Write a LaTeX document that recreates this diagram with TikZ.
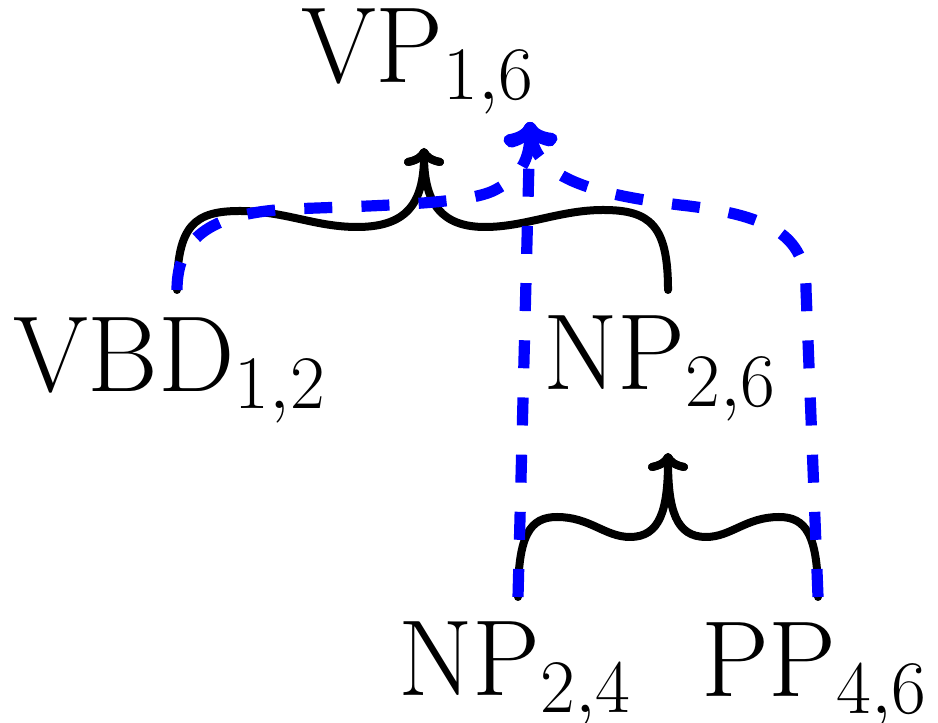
\RequirePackage{fix-cm}
\documentclass[tikz,border=0pt]{standalone}
\usetikzlibrary{arrows.meta}
\begin{document}
\begin{tikzpicture}[x=0.25pt,y=-0.25pt,
  cat/.style={anchor=base west, inner sep=0pt, outer sep=0pt,
    font=\fontsize{27}{32}\selectfont},
  brace/.style={line width=2pt, line cap=round, line join=round},
  bracetip/.style={-{Computer Modern Rightarrow[round,length=4.5pt,width=10pt]}},
  route/.style={blue, line width=2.8pt, dash pattern=on 7pt off 7.3pt,
    -{Computer Modern Rightarrow[round,length=6pt,width=13pt]}}]
\useasboundingbox (0,0) rectangle (938,723);

% categories with their spans
\node[cat] (vp)   at (301,83)  {$\mathrm{VP}_{1,6}$};
\node[cat] (vbd)  at (13,392)  {$\mathrm{VBD}_{1,2}$};
\node[cat] (np26) at (543,390) {$\mathrm{NP}_{2,6}$};
\node[cat] (np24) at (398,696) {$\mathrm{NP}_{2,4}$};
\node[cat] (pp46) at (701,697) {$\mathrm{PP}_{4,6}$};

% attachment points above children and below parents
\coordinate (vbdT)  at (177,290);
\coordinate (np26T) at (668,290);
\coordinate (np24T) at (518,597);
\coordinate (pp46T) at (818,597);
\coordinate (vpB)   at (424,148);
\coordinate (np26B) at (668,453);
\coordinate (vpR)   at (530,122);

% VP -> VBD NP
\draw[brace,bracetip] (vbdT) .. controls (177,225) and (195,211) .. (240,211)
  .. controls (285,211) and (315,227) .. (357,227)
  .. controls (405,227) and (424,205) .. (vpB);
\draw[brace,bracetip] (np26T) .. controls (668,225) and (650,210) .. (603,210)
  .. controls (560,210) and (525,227) .. (485,227)
  .. controls (443,227) and (424,205) .. (vpB);

% NP -> NP PP
\draw[brace,bracetip] (np24T) .. controls (518,535) and (530,517) .. (557,517)
  .. controls (590,517) and (605,537) .. (630,537)
  .. controls (660,537) and (668,510) .. (np26B);
\draw[brace,bracetip] (pp46T) .. controls (818,535) and (806,517) .. (779,517)
  .. controls (746,517) and (731,537) .. (706,537)
  .. controls (676,537) and (668,510) .. (np26B);

% flat VP -> VBD NP PP
\draw[route] (vbdT) .. controls (177,235) and (215,213) .. (290,209)
  .. controls (400,205) and (470,203) .. (495,190)
  .. controls (520,177) and (530,160) .. (vpR);
\draw[route] (np24T) -- (vpR);
\draw[route] (pp46T) -- (806,290) .. controls (806,235) and (770,215) .. (680,205)
  .. controls (600,195) and (535,180) .. (vpR);
\end{tikzpicture}
\end{document}
